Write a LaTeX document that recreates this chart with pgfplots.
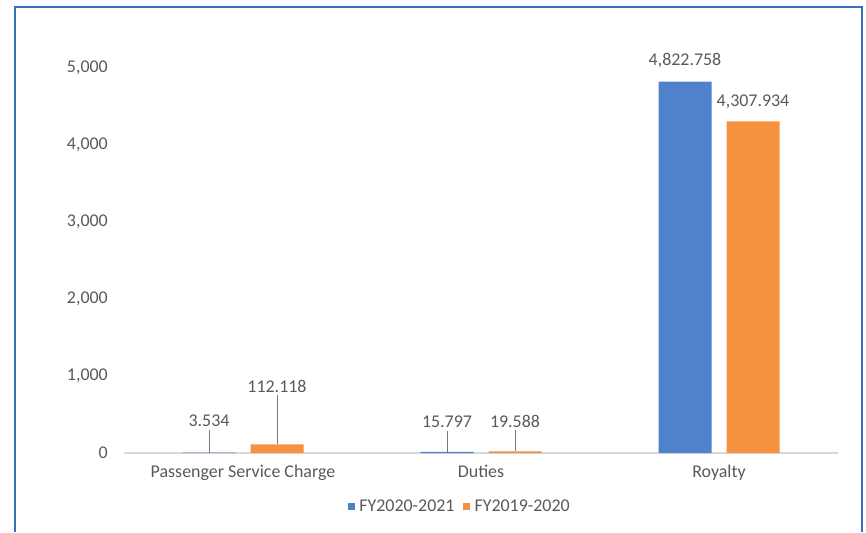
\documentclass[border=0pt]{standalone}
\usepackage{pgfplots}
\pgfplotsset{compat=1.18}
\usepackage{pgfplotstable}
\usepackage{fontspec}
\setmainfont{Carlito}
\definecolor{barblue}{RGB}{79,129,204}
\definecolor{barorange}{RGB}{245,145,63}
\definecolor{txtgray}{RGB}{89,89,89}
\definecolor{leadgray}{RGB}{120,120,120}
\definecolor{framblue}{RGB}{52,114,184}
\definecolor{axgray}{RGB}{217,217,217}

\pgfplotstableread{
x y lead dy
0 3.534 23 0
1 15.797 21 0
2 4822.758 0 11
}\cura
\pgfplotstableread{
x y lead dy
0 112.118 49 0
1 19.588 21 0
2 4307.934 0 9
}\prev

\begin{document}
\begin{tikzpicture}
\path (0,0) rectangle (866bp,532bp);
\draw[framblue, line width=2bp] (15bp,0) -- (15bp,525bp) -- (862bp,525bp) -- (862bp,0);
\begin{axis}[
  at={(124bp,79bp)}, anchor=south west,
  scale only axis, width=714bp, height=385bp,
  ybar=15bp, bar width=53bp,
  xmin=-0.5, xmax=2.5, ymin=0, ymax=5000,
  clip=false,
  font=\fontsize{18}{21}\selectfont\color{txtgray},
  /pgf/number format/assume math mode=true,
  scaled y ticks=false,
  ytick={0,1000,2000,3000,4000,5000},
  xtick=data,
  xticklabels={Passenger Service Charge,Duties,Royalty},
  major tick length=0pt,
  axis x line*=bottom, axis y line*=left,
  x axis line style={axgray, line width=1.2bp, -},
  y axis line style={draw=none},
  yticklabel style={anchor=east, inner sep=0pt, xshift=-16bp, text=txtgray},
  xticklabel style={anchor=north, inner sep=0pt, yshift=-12bp, text=txtgray},
  ticklabel style={font=\fontsize{18}{21}\selectfont},
  visualization depends on={\thisrow{lead} \as \lead},
  visualization depends on={\thisrow{dy} \as \dy},
  nodes near coords={\shortstack{\pgfmathprintnumber[fixed,fixed zerofill,precision=3,1000 sep={,}]{\pgfplotspointmeta}\\{\color{leadgray}\rule{0.8bp}{\lead bp}}}},
  every node near coord/.append style={anchor=south, inner sep=0pt, yshift=\dy bp, text=txtgray, font=\fontsize{18}{21}\selectfont},
  every axis plot post/.append style={legend image code/.code={\fill[##1] (0bp,-3.5bp) rectangle (7bp,3.5bp);}},
  legend columns=2,
  legend style={at={(0.470,-0.140)}, anchor=center, draw=none, fill=none,
    font=\fontsize{18}{21}\selectfont, text=txtgray,
    /tikz/every odd column/.append style={column sep=3bp},
    /tikz/every even column/.append style={column sep=7bp},
    nodes={inner sep=1.5bp}},
]
\addplot[fill=barblue, draw=none] table[x=x,y=y] {\cura};
\addplot[fill=barorange, draw=none] table[x=x,y=y] {\prev};
\legend{FY2020-2021,FY2019-2020}
\end{axis}
\end{tikzpicture}
\end{document}
